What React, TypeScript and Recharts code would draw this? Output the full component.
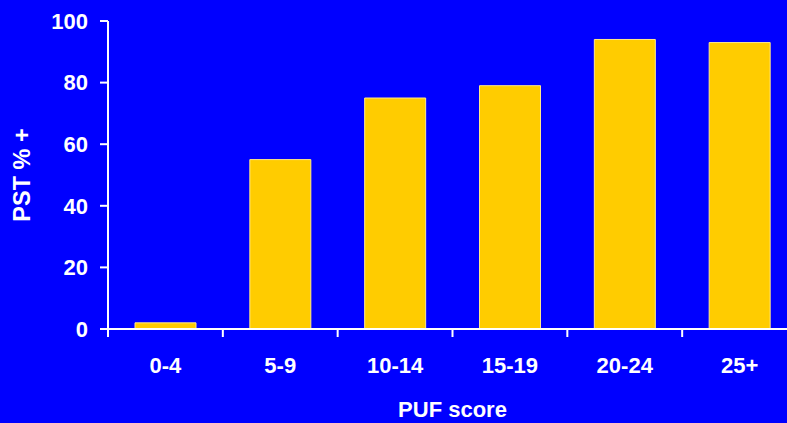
import React from 'react';
import { BarChart, Bar, XAxis, YAxis } from 'recharts';

const categories = ['0-4', '5-9', '10-14', '15-19', '20-24', '25+'];
const pstPositive = [2, 55, 75, 79, 94, 93];
const yTicks = [0, 20, 40, 60, 80, 100];

const data = categories.map((cat, i) => ({ cat, value: pstPositive[i] }));

const W = 800;
const H = 423;
const margin = { top: 21, right: 3, left: 0, bottom: 0 };
const Y_AXIS_W = 108;
const X_AXIS_H = 94;
const BAND = (W - margin.left - margin.right - Y_AXIS_W) / categories.length;

const font = '"Liberation Sans", Arial, sans-serif';
const white = '#ffffff';

// category ticks: label centred, tick mark on the left band edge
const CatTick = (props: any) => {
  const { x, y, payload } = props;
  const half = payload && payload.offset ? payload.offset : BAND / 2;
  return (
    <g>
      <line x1={x - half} x2={x - half} y1={y} y2={y + 8} stroke={white} strokeWidth={2} />
      <text
        x={x}
        y={y + 28}
        dy="0.71em"
        textAnchor="middle"
        fill={white}
        fontFamily={font}
        fontWeight="bold"
        fontSize={22}
      >
        {payload.value}
      </text>
    </g>
  );
};

const YLabel = (props: any) => {
  const { viewBox } = props;
  const cx = viewBox.x + 22;
  const cy = viewBox.y + viewBox.height / 2;
  return (
    <text
      x={cx}
      y={cy}
      transform={`rotate(-90, ${cx}, ${cy})`}
      textAnchor="middle"
      dominantBaseline="central"
      fill={white}
      fontFamily={font}
      fontWeight="bold"
      fontSize={23.5}
    >
      PST % +
    </text>
  );
};

const XLabel = (props: any) => {
  const { viewBox } = props;
  return (
    <text
      x={viewBox.x + viewBox.width / 2}
      y={viewBox.y + 88}
      textAnchor="middle"
      fill={white}
      fontFamily={font}
      fontWeight="bold"
      fontSize={22}
    >
      PUF score
    </text>
  );
};

export default function App() {
  return (
    <div
      style={{
        position: 'absolute',
        left: 0,
        top: 0,
        width: 787,
        height: 423,
        overflow: 'hidden',
        background: '#0000ff',
      }}
    >
      <BarChart width={W} height={H} data={data} margin={margin}>
        <XAxis
          dataKey="cat"
          height={X_AXIS_H}
          axisLine={{ stroke: white, strokeWidth: 2 }}
          tickLine={false}
          tickSize={0}
          tickMargin={0}
          tick={<CatTick />}
          interval={0}
          label={<XLabel />}
        />
        <YAxis
          width={Y_AXIS_W}
          domain={[0, 100]}
          ticks={yTicks}
          interval={0}
          axisLine={{ stroke: white, strokeWidth: 2 }}
          tickLine={{ stroke: white, strokeWidth: 2 }}
          tickSize={8}
          tickMargin={12}
          tick={{ fill: white, fontFamily: font, fontWeight: 'bold', fontSize: 22 }}
          label={<YLabel />}
        />
        <Bar
          dataKey="value"
          fill="#ffcc00"
          stroke="#ffe98a"
          strokeWidth={1}
          barSize={61}
          isAnimationActive={false}
        />
      </BarChart>
    </div>
  );
}
